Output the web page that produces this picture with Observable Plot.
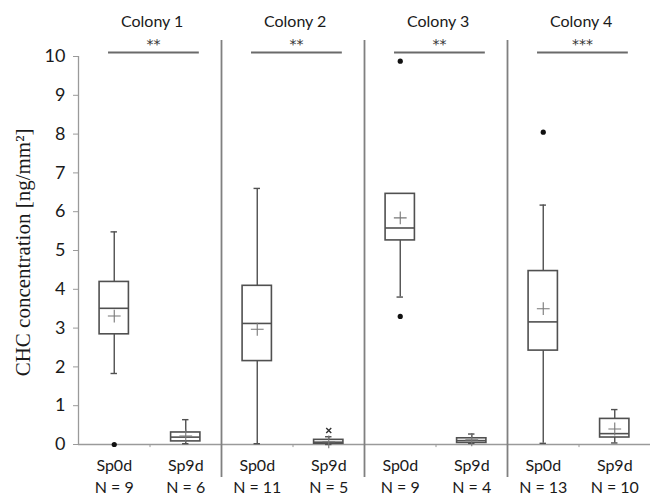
<!DOCTYPE html>
<html><head><meta charset="utf-8">
<script src="https://cdn.jsdelivr.net/npm/d3@7"></script>
<script src="https://cdn.jsdelivr.net/npm/@observablehq/plot@0.6"></script>
<style>body{margin:0;background:#fff}#chart svg{display:block}</style>
</head><body><div id="chart"></div>
<script>
// ---- data ----
const colonies = ["Colony 1", "Colony 2", "Colony 3", "Colony 4"];
const significance = ["**", "**", "**", "***"];
const groups = ["Sp0d", "Sp9d", "Sp0d", "Sp9d", "Sp0d", "Sp9d", "Sp0d", "Sp9d"];
const nCounts = [9, 6, 11, 5, 9, 4, 13, 10];
const whiskerLow  = [1.83, 0.02, 0.02, 0.00, 3.80, 0.03, 0.03, 0.04];
const q1          = [2.84, 0.08, 2.15, 0.02, 5.26, 0.04, 2.42, 0.18];
const median      = [3.51, 0.19, 3.12, 0.06, 5.58, 0.10, 3.16, 0.28];
const q3          = [4.19, 0.31, 4.09, 0.12, 6.46, 0.16, 4.47, 0.66];
const whiskerHigh = [5.48, 0.64, 6.60, 0.20, 6.46, 0.27, 6.17, 0.90];
const means       = [3.31, 0.22, 2.97, 0.07, 5.84, 0.12, 3.50, 0.40];
const outlierGroup  = [0, 4, 4, 6];
const outlierValue  = [0.00, 9.88, 3.30, 8.05];
const extremeGroup  = [3];
const extremeValue  = [0.36];
const yTicks = [0, 1, 2, 3, 4, 5, 6, 7, 8, 9, 10];
const yLabel = "CHC concentration [ng/mm²]";

// ---- tables built from the arrays ----
const rows = groups.map((g, i) => ({
  i, g, n: "N = " + nCounts[i],
  lo: whiskerLow[i], q1: q1[i], med: median[i], q3: q3[i], hi: whiskerHigh[i], mean: means[i]
}));
const cols = colonies.map((c, k) => ({k, c, s: significance[k]}));
const outliers = outlierGroup.map((g, j) => ({i: g, v: outlierValue[j]}));
const extremes = extremeGroup.map((g, j) => ({i: g, v: extremeValue[j]}));
const separators = [1.5, 3.5, 5.5];
const minorTicks = [0.5, 2.5, 4.5, 6.5];

const BH = 0.205, CH = 0.045;
const lineColor = "#505050";
const axisColor = "#9a9a9a";
const sans = "Lato, 'Open Sans', sans-serif";

const chart = Plot.plot({
  width: 654, height: 496,
  marginLeft: 78, marginRight: 4, marginTop: 56, marginBottom: 52,
  x: {type: "linear", domain: [-0.5, 7.5], axis: null},
  y: {type: "linear", domain: [0, 10], axis: null},
  style: {fontFamily: sans, color: "#222", background: "white"},
  marks: [
    // axes
    Plot.ruleY([0], {stroke: axisColor, strokeWidth: 1.3}),
    Plot.ruleX([-0.5], {y1: 0, y2: 10, stroke: axisColor, strokeWidth: 1.3}),
    Plot.axisY({ticks: yTicks, tickSize: 5, tickFormat: () => "", stroke: axisColor}),
    Plot.text(yTicks, {x: -0.5, y: d => d, text: d => String(d), dx: -13, textAnchor: "end", fontSize: 18, fill: "#1a1a1a"}),
    Plot.ruleX(minorTicks, {y1: 0, y2: -0.08, stroke: axisColor}),
    // colony separators
    Plot.ruleX(separators, {y1: -0.85, y2: 10.41, stroke: "#808080", strokeWidth: 1.8}),
    // whiskers
    Plot.ruleX(rows, {x: "i", y1: "q3", y2: "hi", stroke: lineColor, strokeWidth: 1.4}),
    Plot.ruleX(rows, {x: "i", y1: "lo", y2: "q1", stroke: lineColor, strokeWidth: 1.4}),
    Plot.ruleY(rows, {y: "hi", x1: d => d.i - CH, x2: d => d.i + CH, stroke: lineColor, strokeWidth: 1.4}),
    Plot.ruleY(rows, {y: "lo", x1: d => d.i - CH, x2: d => d.i + CH, stroke: lineColor, strokeWidth: 1.4}),
    // boxes
    Plot.rect(rows, {x1: d => d.i - BH, x2: d => d.i + BH, y1: "q1", y2: "q3", fill: "white", stroke: lineColor, strokeWidth: 1.6}),
    Plot.ruleY(rows, {y: "med", x1: d => d.i - BH, x2: d => d.i + BH, stroke: lineColor, strokeWidth: 1.6}),
    // means
    Plot.dot(rows, {x: "i", y: "mean", symbol: "plus", r: 4.2, stroke: "#777", strokeWidth: 1.1}),
    // outliers
    Plot.dot(outliers, {x: "i", y: "v", r: 2.6, fill: "#111", stroke: "none"}),
    Plot.dot(extremes, {x: "i", y: "v", symbol: "times", r: 2.4, stroke: "#333", strokeWidth: 1.4}),
    // category labels
    Plot.text(rows, {x: "i", y: 0, text: "g", dy: 21, fontSize: 16, fill: "#1a1a1a"}),
    Plot.text(rows, {x: "i", y: 0, text: "n", dy: 43, fontSize: 16, fill: "#1a1a1a"}),
    // colony titles, significance
    Plot.text(cols, {x: d => 2 * d.k + 0.53, y: 10, text: "c", dy: -35, fontSize: 16, fill: "#1a1a1a"}),
    Plot.text(cols, {x: d => 2 * d.k + 0.55, y: 10, text: "s", dy: -12, fontSize: 14, fontFamily: "'DejaVu Sans', sans-serif", fill: "#333"}),
    Plot.ruleY(cols, {y: 10, dy: -4, x1: d => 2 * d.k - 0.08, x2: d => 2 * d.k + 1.19, stroke: "#6a6a6a", strokeWidth: 1.8}),
    // y label
    Plot.text([yLabel], {x: -0.5, y: 4.95, text: d => d, rotate: -90, dx: -55, fontSize: 21, fontFamily: "'Liberation Serif', 'DejaVu Serif', serif", fill: "#1a1a1a"})
  ]
});
document.getElementById("chart").appendChild(chart);
</script>
</body></html>
